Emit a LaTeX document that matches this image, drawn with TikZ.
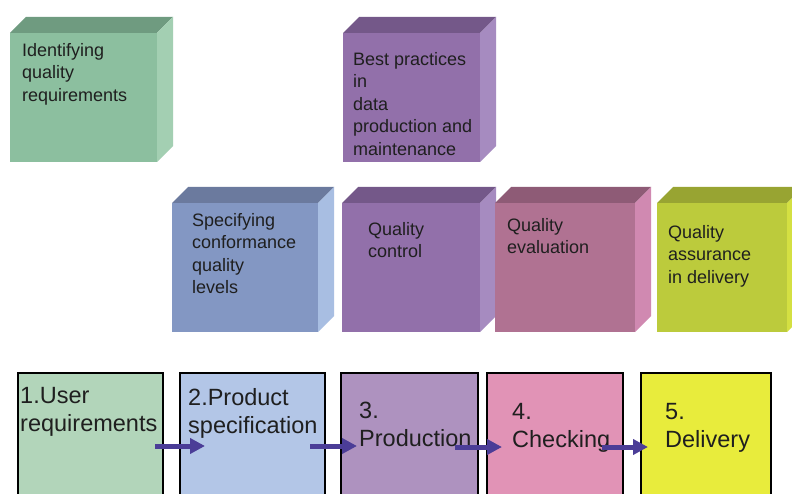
\documentclass[tikz,border=0pt]{standalone}
\usepackage{fontspec}
\setmainfont{Liberation Sans}
\usetikzlibrary{arrows.meta,calc}
\definecolor{gFront}{HTML}{8CBF9F}\definecolor{gTop}{HTML}{6F9B80}\definecolor{gSide}{HTML}{A3CFB2}
\definecolor{pFront}{HTML}{9270AA}\definecolor{pTop}{HTML}{745889}\definecolor{pSide}{HTML}{A68BC0}
\definecolor{bFront}{HTML}{8397C3}\definecolor{bTop}{HTML}{6B7A9E}\definecolor{bSide}{HTML}{A8BEE2}
\definecolor{mFront}{HTML}{B07292}\definecolor{mTop}{HTML}{8E5B76}\definecolor{mSide}{HTML}{D089B1}
\definecolor{yFront}{HTML}{BCCB3C}\definecolor{yTop}{HTML}{98A432}\definecolor{ySide}{HTML}{D4E042}
\definecolor{s1}{HTML}{B2D5BA}\definecolor{s2}{HTML}{B3C6E7}\definecolor{s3}{HTML}{AE92BF}
\definecolor{s4}{HTML}{E193B6}\definecolor{s5}{HTML}{E8EC3C}
\definecolor{arrowc}{HTML}{4B3D97}
\newcommand\qcube[8]{%
  \node[face, fill=#6, minimum width=#4pt, minimum height=#5pt] (#1) at (#2,#3) {};
  \fill[#7] (#1.north west) -- ++(16,-16) -- ($(#1.north east)+(16,-16)$) -- (#1.north east) -- cycle;
  \fill[#8] (#1.north east) -- ++(16,-16) -- ($(#1.south east)+(16,-16)$) -- (#1.south east) -- cycle;
}
\tikzset{
  face/.style={rectangle, draw=none, inner sep=0pt, outer sep=0pt, anchor=north west},
  cubetext/.style={anchor=north west, inner sep=0pt, align=left, text=black!88,
    font=\fontsize{18}{22.5}\selectfont},
  stepbox/.style={rectangle, draw=black, line width=1.2pt, anchor=north west, inner sep=0pt,
    outer sep=0pt, minimum height=146pt},
  steptext/.style={anchor=north west, inner sep=0pt, align=left, text=black!88,
    font=\fontsize{23.5}{28}\selectfont},
  flow/.style={draw=arrowc, line width=5pt, -{Triangle[length=15pt,width=15pt]}}
}
\begin{document}
\begin{tikzpicture}[x=1pt,y=-1pt]
\useasboundingbox (0,0) rectangle (792,494);
\fill[white] (0,0) rectangle (792,494);
\clip (0,0) rectangle (792,494);
% top cubes
\qcube{c1}{10}{33}{147}{129}{gFront}{gTop}{gSide}
\qcube{c2}{343}{33}{137}{129}{pFront}{pTop}{pSide}
% middle cubes
\qcube{c3}{172}{203}{146}{129}{bFront}{bTop}{bSide}
\qcube{c4}{342}{203}{138}{129}{pFront}{pTop}{pSide}
\qcube{c5}{495}{203}{140}{129}{mFront}{mTop}{mSide}
\qcube{c6}{657}{203}{130}{129}{yFront}{yTop}{ySide}
\node[cubetext] (t1) at (22,43) {Identifying\\quality\\requirements};
\node[cubetext] (t2) at (353,52) {Best practices\\in\\data\\production and\\maintenance};
\node[cubetext] (t3) at (192,213) {Specifying\\conformance\\quality\\levels};
\node[cubetext] (t4) at (368,222) {Quality\\control};
\node[cubetext] (t5) at (507,218) {Quality\\evaluation};
\node[cubetext] (t6) at (668,225) {Quality\\assurance\\in delivery};
% bottom steps
\node[stepbox, fill=s1, minimum width=145pt] (b1) at (18,373) {};
\node[stepbox, fill=s2, minimum width=145pt] (b2) at (180,373) {};
\node[stepbox, fill=s3, minimum width=137pt] (b3) at (341,373) {};
\node[stepbox, fill=s4, minimum width=136pt] (b4) at (487,373) {};
\node[stepbox, fill=s5, minimum width=130pt] (b5) at (641,373) {};
\node[steptext] (u1) at (20,387) {1.User\\requirements};
\node[steptext] (u2) at (188,388) {2.Product\\specification};
\node[steptext] (u3) at (359,402) {3.\\Production};
\node[steptext] (u4) at (512,403) {4.\\Checking};
\node[steptext] (u5) at (665,403) {5.\\Delivery};
\draw[flow] ($(b1.east)+(-8,0)$) -- ($(b2.west)+(25,0)$);
\draw[flow] ($(b2.east)+(-15,0)$) -- ($(b3.west)+(16,0)$);
\draw[flow] ($(b3.east)+(-23,1)$) -- ($(b4.west)+(15,1)$);
\draw[flow] ($(b4.east)+(-21,1)$) -- ($(b5.west)+(7,1)$);
\end{tikzpicture}
\end{document}
